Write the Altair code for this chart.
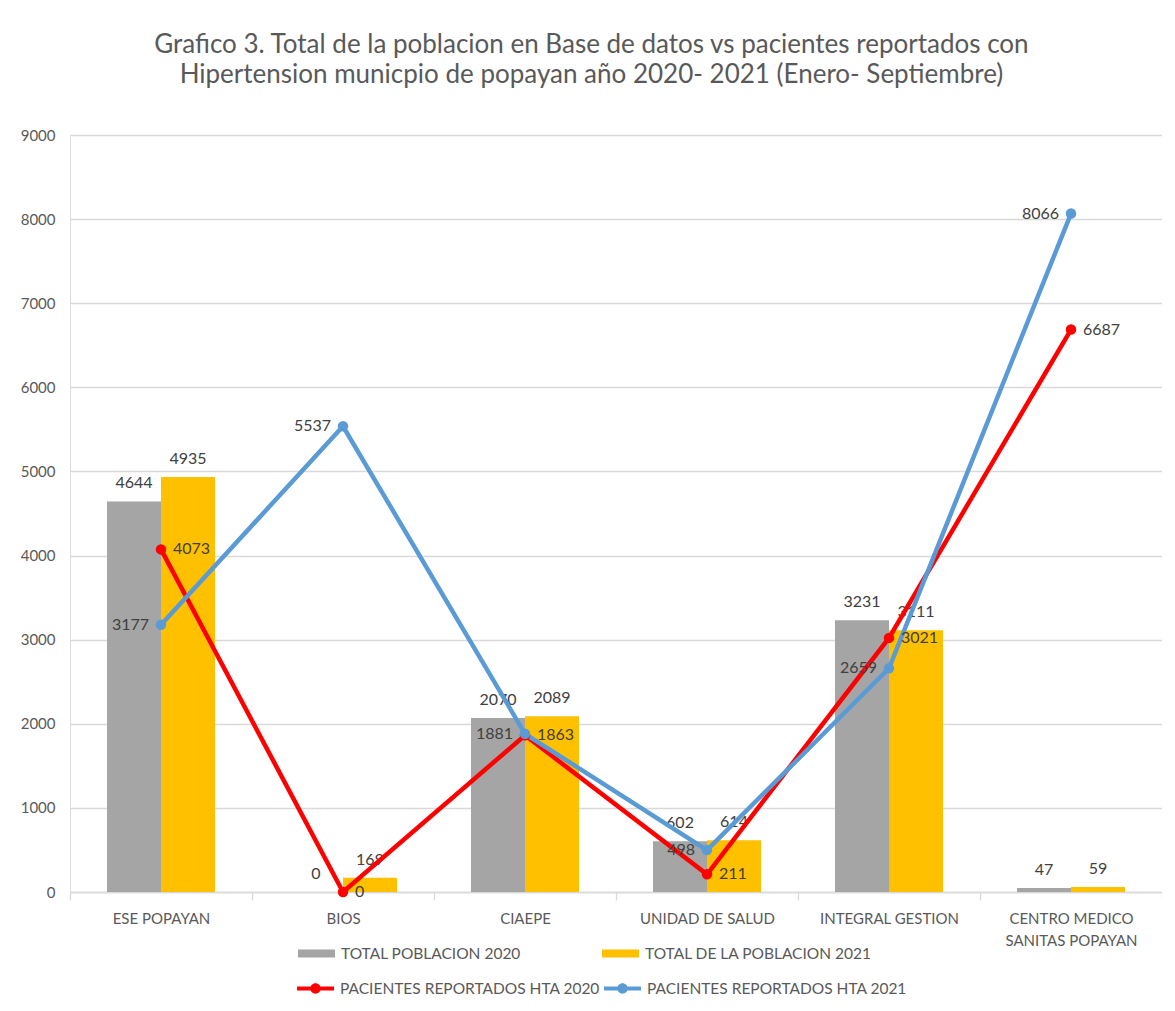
import altair as alt
import pandas as pd

categories = ["ESE POPAYAN", "BIOS", "CIAEPE", "UNIDAD DE SALUD", "INTEGRAL GESTION",
              "CENTRO MEDICO SANITAS POPAYAN"]
total_2020 = [4644, 0, 2070, 602, 3231, 47]
total_2021 = [4935, 169, 2089, 614, 3111, 59]
hta_2020 = [4073, 0, 1863, 211, 3021, 6687]
hta_2021 = [3177, 5537, 1881, 498, 2659, 8066]

bar_series = ["TOTAL POBLACION 2020", "TOTAL DE LA POBLACION 2021"]
line_series = ["PACIENTES REPORTADOS HTA 2020", "PACIENTES REPORTADOS HTA 2021"]
bar_colors = ["#a5a5a5", "#ffc000"]
line_colors = ["#ff0000", "#5b9bd5"]
y_ticks = [0, 1000, 2000, 3000, 4000, 5000, 6000, 7000, 8000, 9000]

title_lines = ["Grafico 3. Total de la poblacion en Base de datos vs  pacientes reportados con",
               "Hipertension municpio de popayan año   2020- 2021 (Enero- Septiembre)"]

FONT = "Lato"
TXT = "#595959"

bars_df = pd.DataFrame(
    [{"cat": c, "serie": bar_series[0], "value": v} for c, v in zip(categories, total_2020)]
    + [{"cat": c, "serie": bar_series[1], "value": v} for c, v in zip(categories, total_2021)]
)
lines_df = pd.DataFrame(
    [{"cat": c, "serie": line_series[0], "value": v, "order": i} for i, (c, v) in enumerate(zip(categories, hta_2020))]
    + [{"cat": c, "serie": line_series[1], "value": v, "order": i} for i, (c, v) in enumerate(zip(categories, hta_2021))]
)

x_enc = alt.X(
    "cat:N", sort=categories, title=None,
    scale=alt.Scale(paddingInner=0, paddingOuter=0),
    axis=alt.Axis(
        labelAngle=0, labelFont=FONT, labelFontSize=15, labelColor=TXT, labelPadding=11,
        domainColor="#d9d9d9", domainWidth=1.3, ticks=True, tickBand="extent",
        tickColor="#d9d9d9", tickSize=8, tickWidth=1.3, grid=False,
        labelExpr="datum.value == 'CENTRO MEDICO SANITAS POPAYAN' ? ['CENTRO MEDICO', 'SANITAS POPAYAN'] : datum.label",
        labelLineHeight=22,
    ),
)
y_enc = alt.Y(
    "value:Q", title=None,
    scale=alt.Scale(domain=[0, 9000], nice=False),
    axis=alt.Axis(
        values=y_ticks, format="d", labelFont=FONT, labelFontSize=15, labelColor=TXT, labelPadding=15,
        domain=False, ticks=False, gridColor="#d9d9d9", gridWidth=1.3,
    ),
)
xoff = alt.XOffset("serie:N", sort=bar_series,
                   scale=alt.Scale(paddingOuter=0.685, paddingInner=0))

bars = alt.Chart(bars_df).mark_bar().encode(
    x=x_enc, y=y_enc, xOffset=xoff,
    fill=alt.Fill(
        "serie:N", sort=bar_series,
        scale=alt.Scale(domain=bar_series, range=bar_colors),
        legend=alt.Legend(
            title=None, orient="none", legendX=228, legendY=800, direction="horizontal",
            columns=2, columnPadding=81, padding=0,
            symbolType="M-1,-0.22L1,-0.22L1,0.22L-1,0.22Z", symbolSize=1369, symbolStrokeWidth=0,
            labelFont=FONT, labelFontSize=15.5, labelColor=TXT, labelOffset=6, labelLimit=400,
        ),
    ),
)

bar_text = alt.Chart(bars_df).mark_text(
    font=FONT, fontSize=16, color="#404040", baseline="alphabetic", dy=-13
).encode(x=alt.X("cat:N", sort=categories), y="value:Q", xOffset=xoff, text="value:Q")

lines = alt.Chart(lines_df).mark_line(strokeWidth=4.5).encode(
    x=alt.X("cat:N", sort=categories), y="value:Q", order="order:Q",
    stroke=alt.Stroke("serie:N", scale=alt.Scale(domain=line_series, range=line_colors), legend=None),
)

points = alt.Chart(lines_df).mark_circle(size=110, opacity=1).encode(
    x=alt.X("cat:N", sort=categories), y="value:Q",
    fill=alt.Fill(
        "serie:N", sort=line_series,
        scale=alt.Scale(domain=line_series, range=line_colors),
        legend=alt.Legend(
            title=None, orient="none", legendX=227, legendY=835, direction="horizontal",
            columns=2, columnPadding=4, padding=0,
            symbolType="M-1,-0.11L1,-0.11L1,0.11L-1,0.11Z M0.28,0A0.28,0.28,0,1,1,-0.28,0A0.28,0.28,0,1,1,0.28,0Z",
            symbolSize=1369, symbolStrokeWidth=0,
            labelFont=FONT, labelFontSize=15.5, labelColor=TXT, labelOffset=6, labelLimit=400,
        ),
    ),
)

red_text = alt.Chart(lines_df).transform_filter(
    alt.datum.serie == line_series[0]
).mark_text(font=FONT, fontSize=16, color="#404040", align="left", baseline="middle", dx=12).encode(
    x=alt.X("cat:N", sort=categories), y="value:Q", text="value:Q")

blue_text = alt.Chart(lines_df).transform_filter(
    alt.datum.serie == line_series[1]
).mark_text(font=FONT, fontSize=16, color="#404040", align="right", baseline="middle", dx=-12).encode(
    x=alt.X("cat:N", sort=categories), y="value:Q", text="value:Q")

chart = alt.layer(bars, bar_text, lines, points, red_text, blue_text).resolve_scale(
    fill="independent"
).properties(
    width=1092, height=757,
    autosize=alt.AutoSizeParams(type="none"),
    padding={"left": 62, "top": 127, "right": 0, "bottom": 108},
    title=alt.TitleParams(
        text=title_lines, font=FONT, fontSize=26, fontWeight="normal", color=TXT,
        anchor="middle", frame="bounds", offset=40, lineHeight=30,
    ),
).configure_view(stroke=None).configure(background="white")

chart.save("out.html", embed_options={"renderer": "svg", "actions": False})
